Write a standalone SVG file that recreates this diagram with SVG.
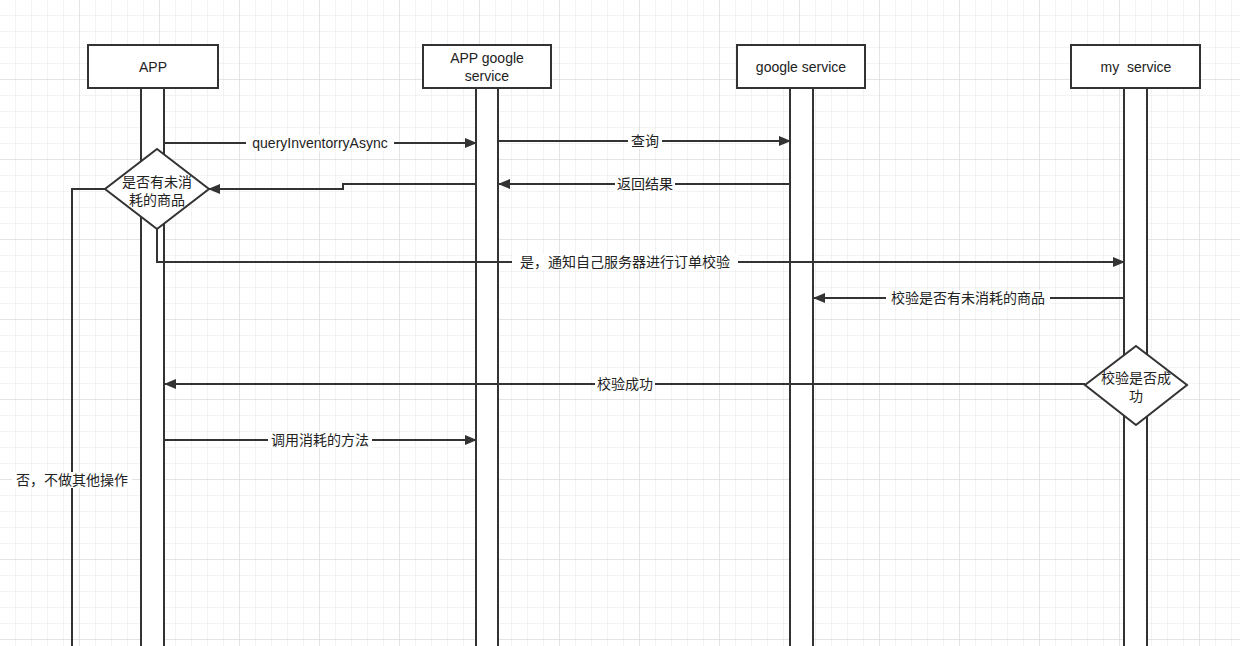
<svg xmlns="http://www.w3.org/2000/svg" width="1240" height="646" viewBox="0 0 1240 646">
<defs>
<pattern id="g" width="16" height="16" patternUnits="userSpaceOnUse"><path d="M16 0V16H0" fill="none" stroke="#e6e6e6" stroke-width="1"/></pattern>
<pattern id="G" width="80" height="80" patternUnits="userSpaceOnUse"><rect width="80" height="80" fill="url(#g)"/><path d="M80 0V80H0" fill="none" stroke="#d6d6d6" stroke-width="1"/></pattern>
<marker id="a" markerWidth="12" markerHeight="10" refX="11" refY="5" orient="auto" markerUnits="userSpaceOnUse"><path d="M0 0L12 5L0 10Z" fill="#333"/></marker>
</defs>
<style>
.b{fill:#fff;stroke:#333;stroke-width:2}
.t{font-family:"Liberation Sans","Noto Sans CJK SC",sans-serif;font-size:14px;fill:#222;text-anchor:middle}
.c{fill:none;stroke:#333;stroke-width:2;marker-end:url(#a)}
.n{fill:none;stroke:#333;stroke-width:2}
.l{fill:#fff}
</style>
<rect width="1240" height="646" fill="#fff"/>
<rect width="1240" height="646" fill="url(#G)"/>
<g id="app"><rect class="b" x="88" y="45" width="130" height="43"/><text class="t" x="153" y="72">APP</text><rect class="b" x="141" y="88" width="23" height="570"/></g>
<g id="appgoogle"><rect class="b" x="423" y="45" width="128" height="43"/><text class="t" x="487" y="63">APP google</text><text class="t" x="487" y="81">service</text><rect class="b" x="476" y="88" width="22" height="570"/></g>
<g id="google"><rect class="b" x="737" y="45" width="128" height="43"/><text class="t" x="801" y="72">google service</text><rect class="b" x="790" y="88" width="23" height="570"/></g>
<g id="my"><rect class="b" x="1071" y="45" width="129" height="43"/><text class="t" x="1136" y="72">my&#160; service</text><rect class="b" x="1124" y="88" width="23" height="570"/></g>
<g id="d1"><path class="b" d="M157 149L209 189L157 229L105 189Z"/><text class="t" x="157" y="187">是否有未消</text><text class="t" x="157" y="205">耗的商品</text></g>
<g id="d2"><path class="b" d="M1136 346L1187 385L1136 425L1085 385Z"/><text class="t" x="1136" y="383">校验是否成</text><text class="t" x="1136" y="401">功</text></g>
<g id="connectors">
<path class="c" d="M164 143H476"/>
<path class="c" d="M498 141H790"/>
<path class="c" d="M790 184H499"/>
<path class="c" d="M476 184H343V189H209"/>
<path class="c" d="M157 229V262H1124"/>
<path class="c" d="M1124 298H814"/>
<path class="c" d="M1085 384H165"/>
<path class="c" d="M164 440H476"/>
<path class="n" d="M105 189H72V646"/>
<rect class="l" x="246" y="135" width="148" height="16"/><text class="t" x="320" y="148">queryInventorryAsync</text>
<rect class="l" x="628" y="133" width="34" height="16"/><text class="t" x="645" y="146">查询</text>
<rect class="l" x="615" y="176" width="60" height="16"/><text class="t" x="645" y="189">返回结果</text>
<rect class="l" x="512" y="254" width="226" height="16"/><text class="t" x="625" y="267">是，通知自己服务器进行订单校验</text>
<rect class="l" x="886" y="290" width="164" height="16"/><text class="t" x="968" y="303">校验是否有未消耗的商品</text>
<rect class="l" x="595" y="376" width="60" height="16"/><text class="t" x="625" y="389">校验成功</text>
<rect class="l" x="268" y="432" width="104" height="16"/><text class="t" x="320" y="445">调用消耗的方法</text>
<rect class="l" x="12" y="472" width="120" height="16"/><text class="t" x="72" y="485">否，不做其他操作</text>
</g>
</svg>
